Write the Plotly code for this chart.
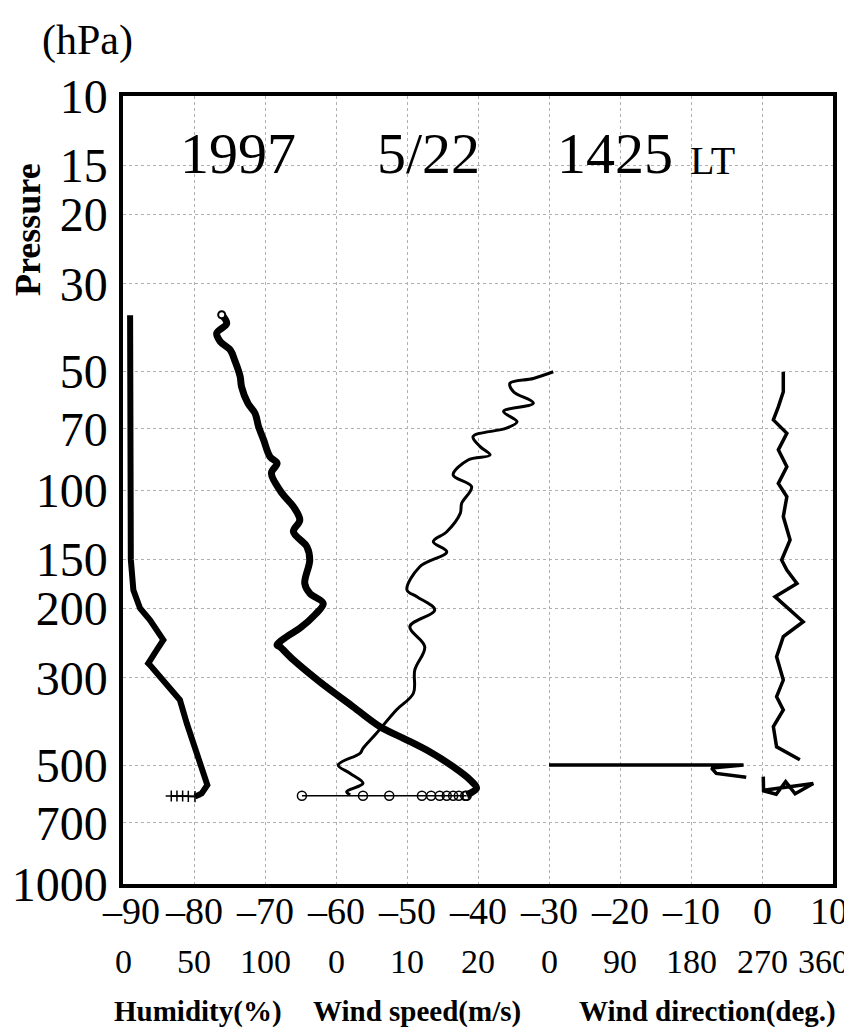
import plotly.graph_objects as go

# ---------------- data ----------------
# Temperature profile: pressure (hPa) and temperature (deg C)
temp_p = [35.9, 37.8, 40.0, 42.0, 44.1, 47.2, 51.5, 54.7, 60.3, 63.9, 69.1, 74.6, 82.3, 85.5,
          90.7, 101.9, 110.2, 119.2, 127.6, 139.3, 150.7, 172.6, 182.9, 194.0, 207.6, 224.4,
          235.5, 247.4, 250, 270, 306.7, 354.8, 398.7, 426.8, 461.8, 503.8, 544.6, 571.5, 594.6]
temp_c = [-76.1, -75.4, -76.8, -76.3, -74.9, -74.2, -73.5, -73.3, -72.4, -71.4, -70.9, -70.2,
          -69.3, -68.3, -69.1, -67.6, -66.0, -65.1, -66.0, -64.1, -63.7, -64.4, -63.7, -61.8,
          -63.0, -65.1, -66.9, -68.3, -67.9, -66.0, -62.3, -57.6, -53.8, -50.5, -46.8, -43.5,
          -41.1, -40.2, -41.6]

# Surface-level record (temperature scale) with open circles
sfc_p = [597, 597, 597, 597, 597, 597, 597, 597, 597, 597, 597]
sfc_c = [-41.6, -41.8, -42.7, -43.5, -44.4, -45.4, -46.6, -47.9, -52.5, -56.2, -64.8]

# Relative humidity (%)
hum_p = [36, 60, 100, 150, 179.5, 199.6, 213.8, 240.2, 254.9, 275.4, 278, 303.6, 341.3, 391,
         448.4, 523.8, 560.6, 588.8, 600]
hum_v = [5, 5, 5.5, 5.5, 7.3, 12, 19, 28.4, 23.7, 17.8, 19, 28.4, 40.1, 44.9, 50.7, 56.5,
         59.4, 55.4, 50.7]
hum_tail_p = [600, 599, 598, 598, 598]
hum_tail_v = [50.7, 46, 42, 38, 34]

# Wind speed (m/s)
ws_p = [50.1, 52.1, 53.6, 56.3, 60.2, 63.2, 67.1, 69.7, 73.2, 77.6, 81.5, 83.9, 91.6, 98.1,
        108.1, 114.6, 127.6, 135.3, 143.5, 156.6, 179.4, 186.6, 201.6, 222.2, 249.9, 286.2,
        328, 361.6, 414.5, 452.6, 465.7, 499, 524, 555, 583, 594]
ws_v = [30.6, 27.8, 24.5, 25.0, 27.8, 23.6, 25.5, 24.0, 19.3, 20.3, 21.7, 18.6, 16.5, 19.1,
        17.7, 17.5, 15.6, 13.7, 15.6, 11.8, 10.0, 11.4, 13.9, 10.4, 12.5, 11.1, 10.9, 8.5,
        5.7, 3.8, 3.4, 0.3, 2.0, 3.8, 1.5, 2.0]

# Wind direction (deg)
wd_p = [50.1, 56.3, 61.5, 66.4, 71.8, 79.1, 87.3, 96.2, 104, 116.8, 133.9, 150.5, 159.7,
        172.6, 186.5, 205.6, 216, 235.6, 265, 303.6, 334.7, 361.6, 398.8, 448.5, 484,
        None, 499, 499, 508, 524, 536,
        None, 534, 580, 592, 550, 590, 556, 578]
wd_v = [297, 297, 290.7, 284.4, 301.5, 290.7, 301.5, 290.7, 301.5, 297, 305.6, 294.9, 301.5,
        314.3, 286.5, 309.4, 322.2, 297, 288.5, 297, 288.5, 297, 284.4, 288.5, 318,
        None, 0, 246.6, 206, 212, 250,
        None, 271.6, 272, 288, 300, 312, 335, 272]

# Axis ticks / labels
p_ticks = [10, 15, 20, 30, 50, 70, 100, 150, 200, 300, 500, 700, 1000]
t_ticks = [-90, -80, -70, -60, -50, -40, -30, -20, -10, 0, 10]
t_labels = ["–90", "–80", "–70", "–60", "–50", "–40", "–30", "–20", "–10", "0", "10"]
sub_labels = ["0", "50", "100", "0", "10", "20", "0", "90", "180", "270", "360"]

# ---------------- scale conversions onto the shared x axis ----------------
def hum_x(h):
    return h / 5.0 - 90.0          # 0..100 %  -> -90..-70

def ws_x(w):
    return w - 60.0                # 0..20 m/s -> -60..-40

def wd_x(d):
    return None if d is None else d / 9.0 - 30.0   # 0..360 deg -> -30..10

SERIF = "Liberation Serif, Times New Roman, serif"
fig = go.Figure()

fig.add_trace(go.Scatter(x=[hum_x(v) for v in hum_v], y=hum_p, mode="lines",
                         line=dict(color="black", width=6), name="Humidity"))
fig.add_trace(go.Scatter(x=[hum_x(v) for v in hum_tail_v], y=hum_tail_p, mode="lines+markers",
                         line=dict(color="black", width=1.5),
                         marker=dict(symbol="cross-thin", size=8, line=dict(color="black", width=1.5)),
                         name="Humidity (surface)"))
fig.add_trace(go.Scatter(x=temp_c, y=temp_p, mode="lines",
                         line=dict(color="black", width=7, shape="spline"), name="Temperature"))
fig.add_trace(go.Scatter(x=temp_c[:1], y=temp_p[:1], mode="markers",
                         marker=dict(symbol="circle", size=7, color="white",
                                     line=dict(color="black", width=2)),
                         name="Temperature start"))
fig.add_trace(go.Scatter(x=[ws_x(v) for v in ws_v], y=ws_p, mode="lines",
                         line=dict(color="black", width=3, shape="spline"), name="Wind speed"))
fig.add_trace(go.Scatter(x=[wd_x(v) for v in wd_v], y=wd_p, mode="lines", connectgaps=False,
                         line=dict(color="black", width=3.5), name="Wind direction"))
fig.add_trace(go.Scatter(x=sfc_c, y=sfc_p, mode="lines+markers",
                         line=dict(color="black", width=1.5),
                         marker=dict(symbol="circle-open", size=9, color="black",
                                     line=dict(width=1.5)),
                         name="Surface"))

# page body margin of the html page (8 px) is compensated here
OFF = 8
W, H = 852 - OFF, 1035 - OFF
L, R, T, B = 123 - OFF, 19, 96 - OFF, 151
PW, PH = W - L - R, H - T - B

def px(xp):
    return (xp - OFF - L) / PW

def py(yp):
    return (H - B - (yp - OFF)) / PH

ann = []
# title pieces
ann.append(dict(text="1997", x=px(238), y=py(153), font=dict(size=58)))
ann.append(dict(text="5/22", x=px(428), y=py(153), font=dict(size=58)))
ann.append(dict(text="1425", x=px(615), y=py(153), font=dict(size=58)))
ann.append(dict(text="LT", x=px(712), y=py(160), font=dict(size=40)))
# unit / axis titles
ann.append(dict(text="(hPa)", x=px(87), y=py(40), font=dict(size=42)))
ann.append(dict(text="<b>Pressure</b>", x=px(28), y=py(230), textangle=-90, font=dict(size=36)))
ann.append(dict(text="<b>Humidity(%)</b>", x=px(198), y=py(1011), font=dict(size=29)))
ann.append(dict(text="<b>Wind speed(m/s)</b>", x=px(417), y=py(1011), font=dict(size=29)))
ann.append(dict(text="<b>Wind direction(deg.)</b>", x=px(707), y=py(1011), font=dict(size=29)))
for a in ann:
    a.update(xref="paper", yref="paper", showarrow=False, xanchor="center", yanchor="middle")
    a["font"].update(family=SERIF, color="black")
# temperature tick labels and secondary scale labels under them
last = len(t_ticks) - 1
for i, (tv, lab, sub) in enumerate(zip(t_ticks, t_labels, sub_labels)):
    shift = 8 if i == 0 else (-4 if i == last else 0)
    ann.append(dict(text=lab, x=tv, y=py(911), xref="x", yref="paper", showarrow=False,
                    xanchor="center", yanchor="middle", xshift=shift,
                    font=dict(family=SERIF, size=38, color="black")))
    shift2 = -10 if i == last else 0
    ann.append(dict(text=sub, x=tv, y=py(961), xref="x", yref="paper", showarrow=False,
                    xanchor="center", yanchor="middle", xshift=shift2,
                    font=dict(family=SERIF, size=34, color="black")))

fig.update_layout(
    width=W, height=H,
    margin=dict(l=L, r=R, t=T, b=B, pad=0, autoexpand=False),
    paper_bgcolor="white", plot_bgcolor="white",
    showlegend=False,
    annotations=ann,
    xaxis=dict(range=[-90, 10], tickvals=t_ticks, showticklabels=False, automargin=False,
               showline=True, linecolor="black", linewidth=3.5, mirror=True,
               showgrid=True, gridcolor="#b0b0b0", gridwidth=1, griddash="dot",
               zeroline=False, ticks=""),
    yaxis=dict(type="log", range=[3, 1], tickvals=p_ticks, ticktext=[str(v) for v in p_ticks],
               automargin=False,
               showline=True, linecolor="black", linewidth=3.5, mirror=True,
               showgrid=True, gridcolor="#b0b0b0", gridwidth=1, griddash="dot",
               zeroline=False, ticks="", ticklabelstandoff=2,
               tickfont=dict(family=SERIF, size=48, color="black")),
)

fig.write_html("out.html")
